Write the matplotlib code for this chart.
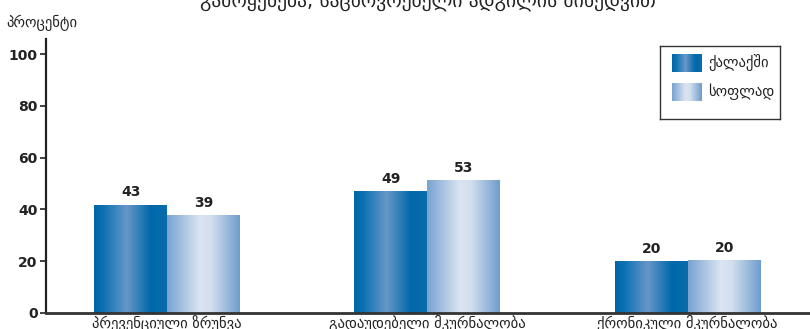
import numpy as np
import matplotlib.pyplot as plt
from matplotlib.colors import LinearSegmentedColormap

plt.rcParams['font.family'] = ['DejaVu Sans']

categories = ['პრევენციული ზრუნვა', 'გადაუდებელი მკურნალობა', 'ქრონიკული მკურნალობა']
series_names = ['ქალაქში', 'სოფლად']
urban_labels = [43, 49, 20]
rural_labels = [39, 53, 20]
# heights as drawn in the picture (slightly off from the printed labels)
urban_heights = [41.7, 47.0, 20.0]
rural_heights = [37.8, 51.3, 20.4]
yticks = [0, 20, 40, 60, 80, 100]
title = 'გამოყენება, საცხოვრებელი ადგილის მიხედვით'
ylabel = 'პროცენტი'

dark_cmap = LinearSegmentedColormap.from_list(
    'dark', [(0, '#0066a6'), (0.12, '#0a70b2'), (0.45, '#6797c8'),
             (0.78, '#0068aa'), (1, '#0a6cad')])
light_cmap = LinearSegmentedColormap.from_list(
    'light', [(0, '#78a3d1'), (0.45, '#dbe4f2'), (0.6, '#d3dfee'),
              (1, '#6e9dcc')])
grad = np.linspace(0, 1, 256).reshape(1, -1)

fig = plt.figure(figsize=(8.1, 3.29), dpi=100)
ax = fig.add_axes([46 / 810, 16 / 329, 1 - 46 / 810, (313 - 39) / 329])

w = 0.28
x = np.arange(len(categories))
for i in range(len(categories)):
    for h, lab, cmap, off in [(urban_heights[i], urban_labels[i], dark_cmap, -w / 2),
                              (rural_heights[i], rural_labels[i], light_cmap, w / 2)]:
        cx = x[i] + off
        ax.imshow(grad, cmap=cmap, extent=(cx - w / 2, cx + w / 2, 0, h),
                  aspect='auto', zorder=2)
        ax.annotate(str(lab), (cx, h), xytext=(0, 4), textcoords='offset points',
                    ha='center', va='bottom', fontsize=10, fontweight='bold',
                    color='#222222')

ax.set_xlim(-0.465, 2.47)
ax.set_ylim(0, 105.8)
ax.set_yticks(yticks)
ax.set_yticklabels([str(t) for t in yticks], fontsize=10, fontweight='bold',
                   color='#222222')
ax.set_xticks(x)
ax.set_xticklabels(categories, fontsize=10.5, color='#222222')
ax.tick_params(axis='x', length=0, pad=1.5)
ax.tick_params(axis='y', length=4, width=1.2, pad=2, color='#222222')
for s in ['top', 'right']:
    ax.spines[s].set_visible(False)
ax.spines['left'].set_linewidth(1.6)
ax.spines['left'].set_color('#222222')
ax.spines['bottom'].set_linewidth(2)
ax.spines['bottom'].set_color('#333333')

fig.text(6 / 810, 1 - 23 / 329, ylabel, fontsize=10.5, va='center', ha='left',
         color='#222222')
fig.text(428 / 810, 1 - 7 / 329, title, fontsize=14, ha='center',
         va='baseline', color='#222222')

# legend with gradient swatches
lg = fig.add_axes([660 / 810, 1 - 119 / 329, 120 / 810, 73 / 329])
lg.set_xticks([])
lg.set_yticks([])
for s in lg.spines.values():
    s.set_linewidth(1)
    s.set_color('#333333')
for j, (name, cmap) in enumerate(zip(series_names, [dark_cmap, light_cmap])):
    y0 = 8 + j * 29
    lg.imshow(grad, cmap=cmap, extent=(12, 42, y0 + 18, y0), aspect='auto')
    lg.text(48, y0 + 9, name, fontsize=10.5, va='center', ha='left',
            color='#222222')
lg.set_xlim(0, 120)
lg.set_ylim(73, 0)

fig.savefig('out.png', dpi=100)
